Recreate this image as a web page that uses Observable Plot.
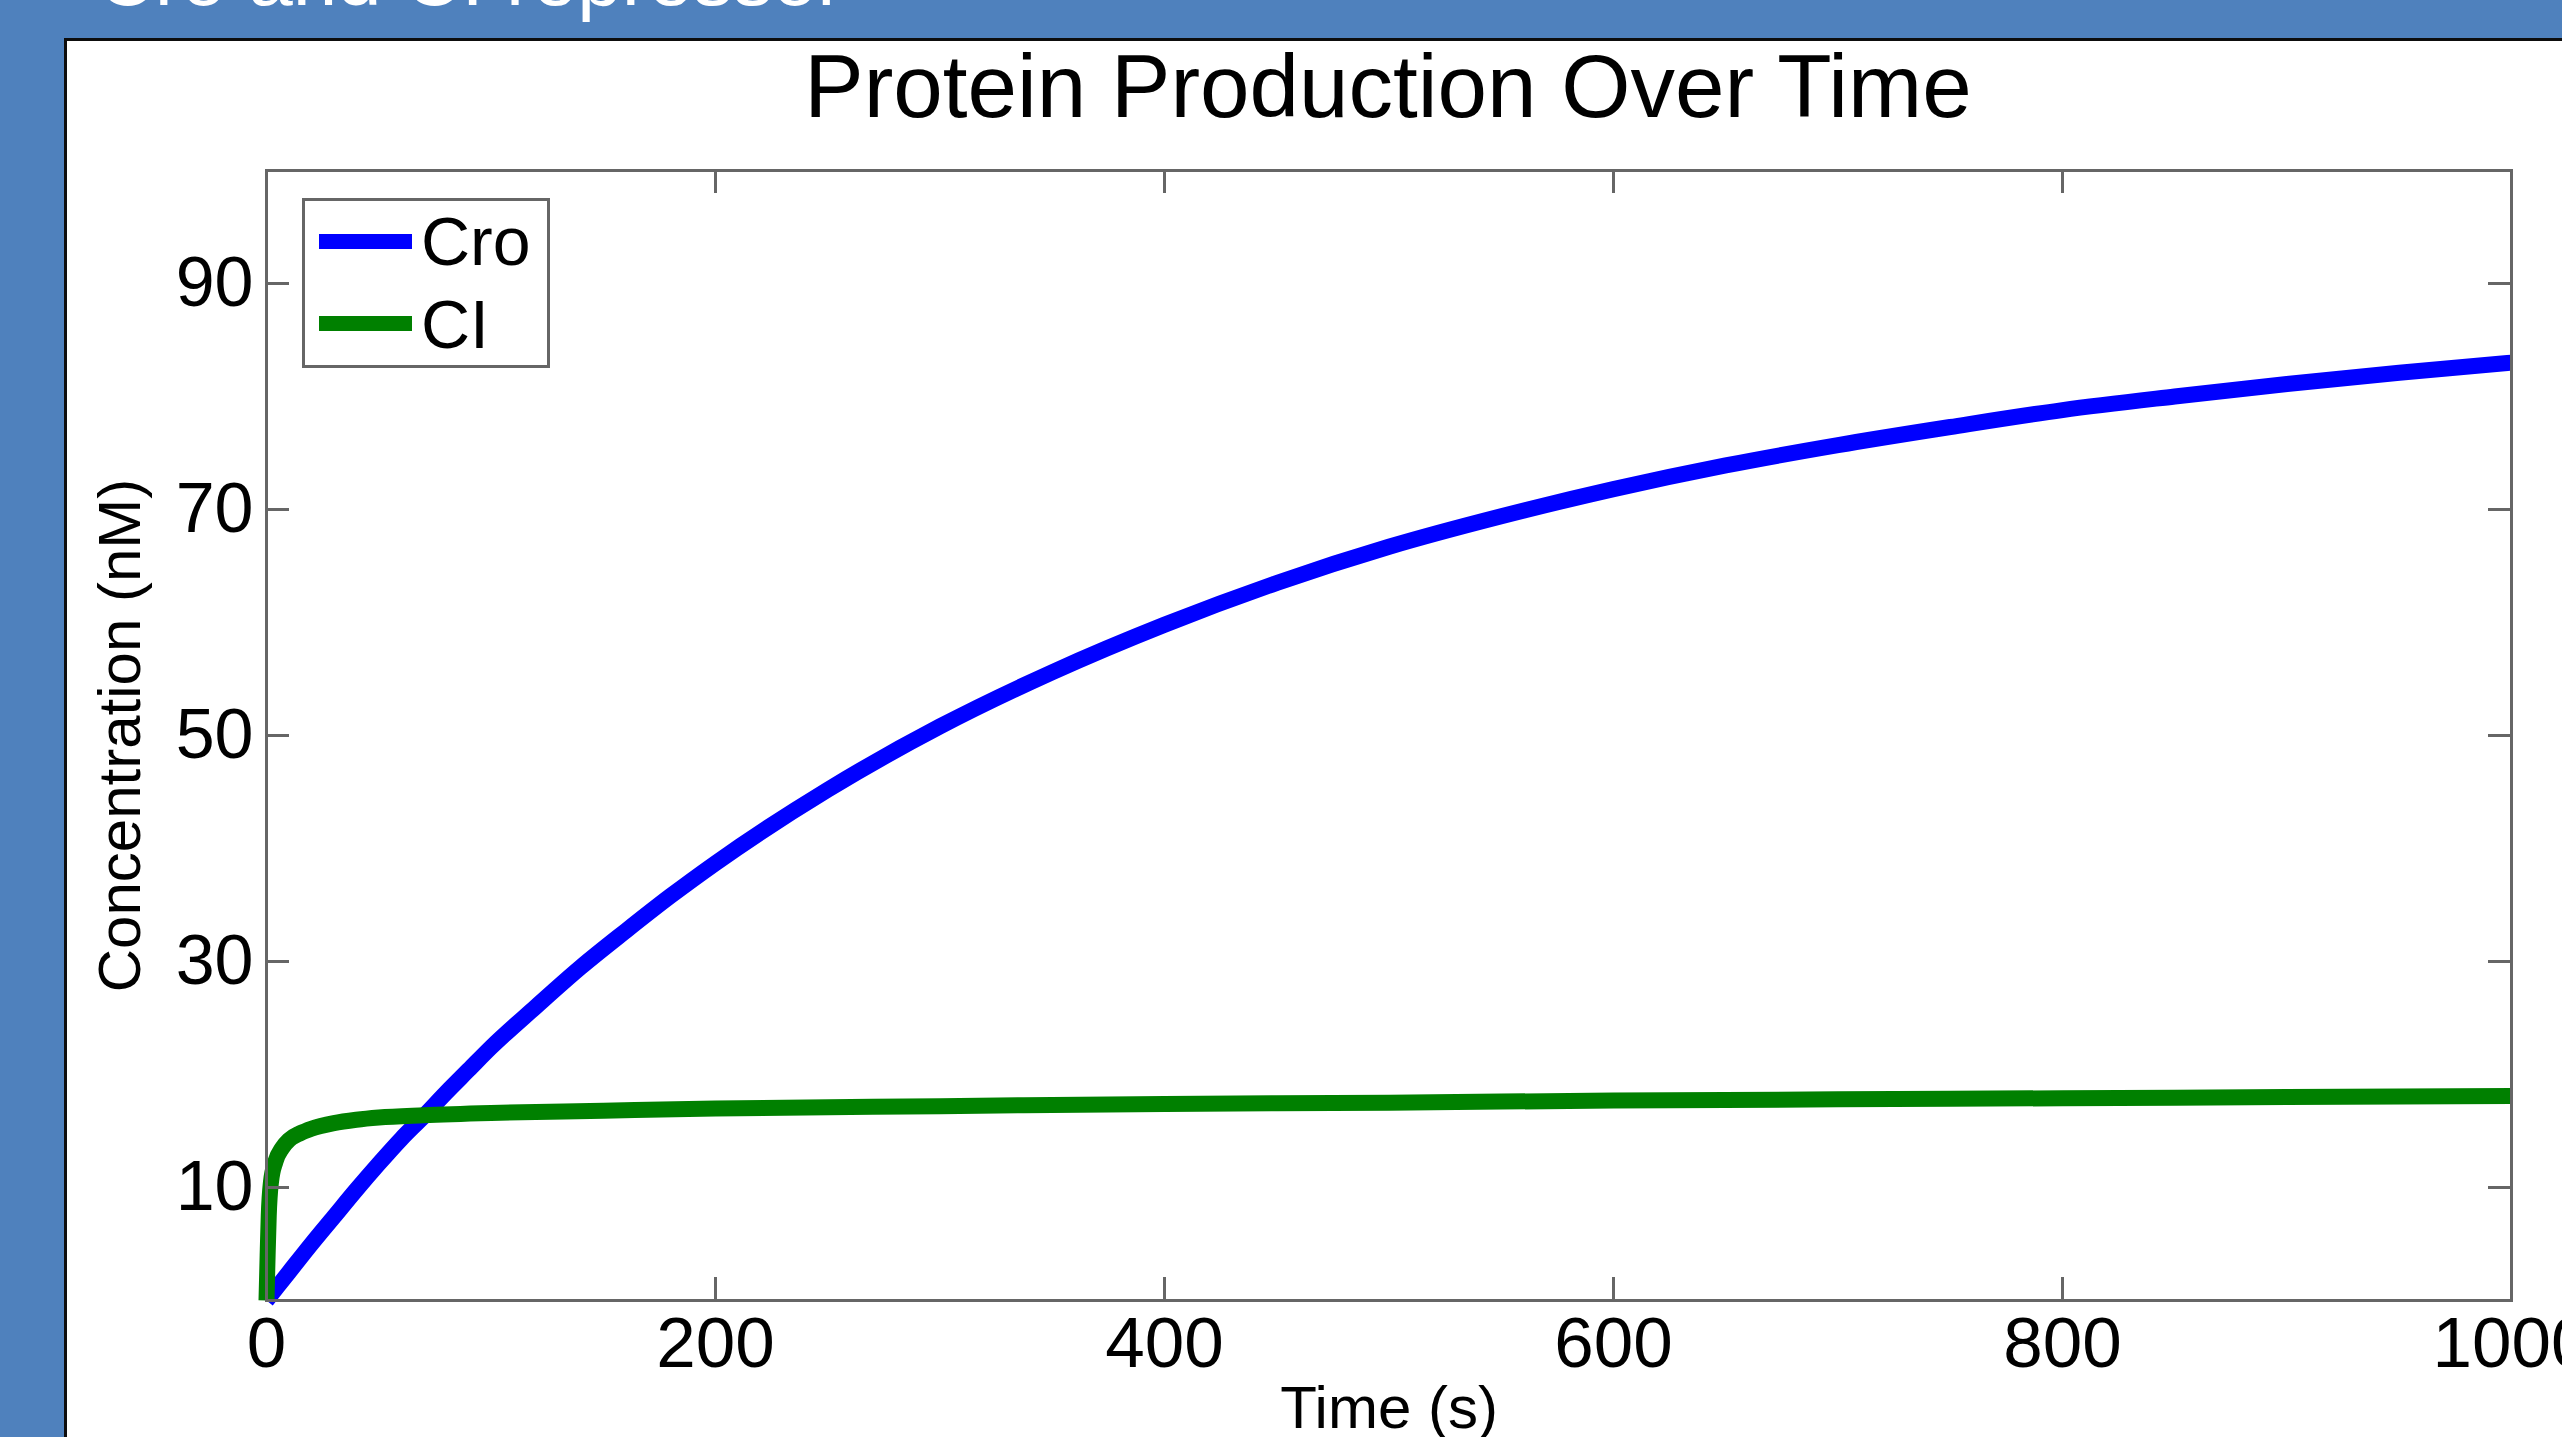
<!DOCTYPE html>
<html>
<head>
<meta charset="utf-8">
<script src="https://cdn.jsdelivr.net/npm/d3@7"></script>
<script src="https://cdn.jsdelivr.net/npm/@observablehq/plot@0.6"></script>
<style>
  html, body { margin: 0; padding: 0; }
  body { width: 2562px; height: 1437px; overflow: hidden; background: #4f81bd; position: relative;
         font-family: "Liberation Sans", Arial, Helvetica, sans-serif; }
  #slideText { position: absolute; left: 97px; top: -62px; font-size: 80px; line-height: 80px; color: #fff; white-space: nowrap; }
  #panel { position: absolute; left: 64px; top: 38px; width: 2600px; height: 1500px; background: #fff;
           border-top: 3px solid #0d0d0d; border-left: 3px solid #0d0d0d; }
  #chart { position: absolute; left: 0; top: 0; }
  #title { position: absolute; left: 388px; width: 2000px; top: 42px; text-align: center; font-size: 89px; line-height: 89px; color: #000; white-space: nowrap; }
  #legend { position: absolute; left: 302px; top: 198px; width: 248px; height: 170px; box-sizing: border-box;
            border: 3px solid #666; background: #fff; }
  .sw { position: absolute; left: 14px; width: 93px; height: 15px; }
  .lt { position: absolute; left: 116px; font-size: 68px; line-height: 68px; color: #000; white-space: nowrap; }
</style>
</head>
<body>
<div id="slideText">Cro and CI repressor</div>
<div id="panel"></div>
<div id="chart"></div>
<div id="title"></div>
<div id="legend"></div>
<script>
// ---- data ----
const seriesNames = ["Cro", "CI"];
const seriesColors = ["#0000ff", "#008000"];

const croTimes  = [0, 10, 20, 30, 40, 50, 60, 70, 80, 90, 100, 120, 140, 160, 180, 200, 250, 300, 350, 400, 450, 500, 550, 600, 650, 700, 750, 800, 850, 900, 950, 1000];
const croValues = [0, 2.5, 5.0, 7.4, 9.8, 12.1, 14.3, 16.3, 18.4, 20.4, 22.4, 26.0, 29.5, 32.7, 35.8, 38.7, 45.2, 50.8, 55.6, 59.8, 63.5, 66.7, 69.4, 71.8, 73.9, 75.7, 77.3, 78.8, 80.0, 81.1, 82.1, 83.0];

const ciTimes  = [0, 0.5, 1, 2, 4, 7, 10, 15, 20, 30, 40, 50, 70, 100, 150, 200, 300, 400, 500, 600, 700, 800, 900, 1000];
const ciValues = [0, 4.0, 7.5, 10.5, 12.3, 13.5, 14.2, 14.8, 15.2, 15.7, 16.0, 16.2, 16.4, 16.6, 16.8, 17.0, 17.2, 17.4, 17.5, 17.7, 17.8, 17.9, 18.0, 18.1];

const xTickLabels = [0, 200, 400, 600, 800, 1000];
const xTickMarks  = [200, 400, 600, 800];
const yTicks      = [10, 30, 50, 70, 90];

const titleText = "Protein Production Over Time";
const xLabel = "Time (s)";
const yLabel = "Concentration (nM)";

// ---- build table ----
const rows = [
  ...croTimes.map((t, i) => ({t, v: croValues[i], series: "Cro"})),
  ...ciTimes.map((t, i) => ({t, v: ciValues[i], series: "CI"}))
];

const W = 2562, H = 1437;
const mL = 266, mR = 51, mT = 170, mB = 137;
const plotW = W - mL - mR, plotH = H - mT - mB;
const tickLen = 23;
const axisColor = "#666";
const font = "Liberation Sans, Arial, Helvetica, sans-serif";

const chart = Plot.plot({
  width: W, height: H,
  marginLeft: mL, marginRight: mR, marginTop: mT, marginBottom: mB,
  style: {background: "transparent", fontFamily: font, color: "#000", overflow: "visible"},
  x: {domain: [0, 1000], label: null},
  y: {domain: [0, 100], label: null},
  color: {domain: seriesNames, range: seriesColors},
  marks: [
    Plot.line(rows.filter(d => d.series === "Cro"), {x: "t", y: "v", stroke: "series", strokeWidth: 16, curve: "monotone-x", strokeLinejoin: "round", strokeLinecap: "butt"}),
    Plot.line(rows.filter(d => d.series === "CI"), {x: "t", y: "v", stroke: "series", strokeWidth: 16, curve: "monotone-x", strokeLinejoin: "round", strokeLinecap: "butt"}),
    Plot.frame({stroke: axisColor, strokeWidth: 3}),
    Plot.tickY(yTicks, {y: d => d, insetRight: plotW - tickLen, stroke: axisColor, strokeWidth: 3}),
    Plot.tickY(yTicks, {y: d => d, insetLeft: plotW - tickLen, stroke: axisColor, strokeWidth: 3}),
    Plot.tickX(xTickMarks, {x: d => d, insetTop: plotH - tickLen, stroke: axisColor, strokeWidth: 3}),
    Plot.tickX(xTickMarks, {x: d => d, insetBottom: plotH - tickLen, stroke: axisColor, strokeWidth: 3}),
    Plot.axisX({ticks: xTickLabels, tickSize: 0, tickPadding: 16, fontSize: 71, label: null, tickFormat: d => String(d)}),
    Plot.axisY({ticks: yTicks, tickSize: 0, tickPadding: 13, fontSize: 70, label: null, tickFormat: d => String(d)}),
    Plot.axisX({ticks: [], tickSize: 0, fontSize: 60, label: xLabel, labelAnchor: "center", labelOffset: 127, labelArrow: "none"}),
    Plot.axisY({ticks: [], tickSize: 0, fontSize: 60, label: yLabel, labelAnchor: "center", labelOffset: 169, labelArrow: "none"})
  ]
});
document.getElementById("chart").appendChild(chart);
document.getElementById("title").textContent = titleText;

// legend
const legend = document.getElementById("legend");
const swTops = [33, 115];
const txtTops = [6, 89];
seriesNames.forEach((name, i) => {
  const sw = document.createElement("div");
  sw.className = "sw";
  sw.style.top = swTops[i] + "px";
  sw.style.background = seriesColors[i];
  legend.appendChild(sw);
  const tx = document.createElement("div");
  tx.className = "lt";
  tx.style.top = txtTops[i] + "px";
  tx.textContent = name;
  legend.appendChild(tx);
});
</script>
</body>
</html>
